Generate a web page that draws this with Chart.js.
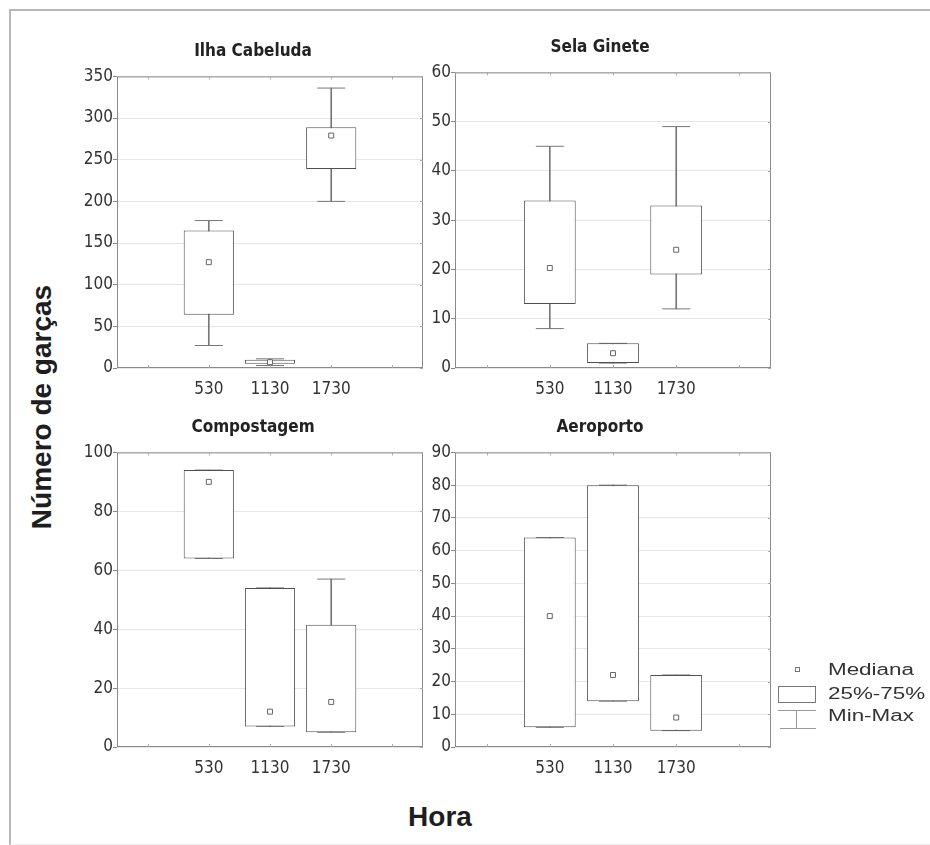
<!DOCTYPE html>
<html>
<head>
<meta charset="utf-8">
<script src="https://cdn.jsdelivr.net/npm/chart.js@4.4.1/dist/chart.umd.min.js"></script>
<style>
  body { margin: 0; background: #fff; }
  #page { position: relative; width: 930px; height: 845px; overflow: hidden; background: #fff; }
  #frame { position: absolute; left: 9px; top: 9px; width: 930px; height: 833px;
           border-top: 2px solid #b8b8b8; border-left: 2px solid #b8b8b8; border-bottom: 1px solid #eee; }
  canvas { position: absolute; }
  .lbl { position: absolute; font-family: 'Liberation Sans', Arial, sans-serif; font-weight: bold;
         font-size: 28px; color: #1e1e1e; white-space: nowrap; transform: translate(-50%, -50%); }
  .leg { position: absolute; font-family: 'Liberation Sans', Arial, sans-serif; font-size: 16px; color: #333;
         white-space: nowrap; transform-origin: left center; transform: translateY(-50%) scaleX(1.4); left: 828px; }
  .sym { position: absolute; box-sizing: border-box; }
</style>
</head>
<body>
<div id="page">
  <div id="frame"></div>
  <canvas id="c1" width="386" height="378" style="left:60px; top:30px;"></canvas>
  <canvas id="c2" width="404" height="382" style="left:398px; top:26px;"></canvas>
  <canvas id="c3" width="386" height="381" style="left:60px; top:406px;"></canvas>
  <canvas id="c4" width="404" height="381" style="left:398px; top:406px;"></canvas>

  <div class="lbl" style="left:42px; top:407px; transform: translate(-50%, -50%) rotate(-90deg);">Número de garças</div>
  <div class="lbl" style="left:440px; top:817px;">Hora</div>

  <div class="sym" style="left:795px; top:667px; width:5px; height:5px; border:1px solid #777;"></div>
  <div class="sym" style="left:778px; top:686px; width:38px; height:17px; border:1px solid #777;"></div>
  <div class="sym" style="left:778px; top:710px; width:38px; height:1px; background:#999;"></div>
  <div class="sym" style="left:796px; top:710px; width:1px; height:18px; background:#999;"></div>
  <div class="sym" style="left:780px; top:728px; width:36px; height:1px; background:#999;"></div>
  <div class="leg" style="top:670px;">Mediana</div>
  <div class="leg" style="top:694px;">25%-75%</div>
  <div class="leg" style="top:716px;">Min-Max</div>
</div>

<script>
// Horas (categorias do eixo x)
const horas = ['530', '1130', '1730'];

// [min, q1, mediana, q3, max] para cada hora
const ilhaCabeluda = [[27, 64, 127, 165, 177], [3, 5, 7, 10, 11], [200, 239, 279, 289, 336]];
const selaGinete = [[8, 13, 20.3, 34, 45], [1, 1, 3, 5, 5], [12, 19, 24, 33, 49]];
const compostagem = [[64, 64, 90, 94, 94], [7, 7, 12, 54, 54], [5, 5, 15.3, 41.5, 57]];
const aeroporto = [[6, 6, 40, 64, 64], [14, 14, 22, 80, 80], [5, 5, 9, 22, 22]];

// Escalas do eixo y
const yMax = [350, 60, 100, 90];
const yStep = [50, 10, 20, 10];

const narrow = "'DejaVu Sans Condensed', 'Liberation Sans Narrow', 'Arial Narrow', 'DejaVu Sans', sans-serif";
const tickFont = { family: narrow, size: 17, style: 'condensed' };
const titleFont = { family: narrow, size: 17, weight: 'bold', style: 'condensed' };

// Moldura da área do gráfico com pequenas marcas internas
const framePlugin = {
    id: 'frame',
    afterDraw(chart) {
        const { ctx, chartArea: a, scales } = chart;
        ctx.save();
        ctx.strokeStyle = '#8a8a8a';
        ctx.lineWidth = 1;
        ctx.strokeRect(a.left + 0.5, a.top + 0.5, a.width - 1, a.height - 1);
        ctx.strokeStyle = '#aaa';
        ctx.beginPath();
        scales.x.ticks.forEach((t, i) => {
            const x = Math.round(scales.x.getPixelForTick(i)) + 0.5;
            ctx.moveTo(x, a.top); ctx.lineTo(x, a.top + 3);
            ctx.moveTo(x, a.bottom); ctx.lineTo(x, a.bottom - 3);
        });
        scales.y.ticks.forEach((t, i) => {
            const y = Math.round(scales.y.getPixelForTick(i)) + 0.5;
            ctx.moveTo(a.right, y); ctx.lineTo(a.right - 3, y);
        });
        ctx.stroke();
        ctx.restore();
    }
};

function pick(stats, k) {
    return [null, ...stats.map(s => s[k]), null];
}

function createBoxChart(canvasId, title, stats, max, step, padRight) {
    const labels = ['', ...horas, ''];
    const ctx = document.getElementById(canvasId).getContext('2d');
    return new Chart(ctx, {
        type: 'bar',
        data: {
            labels: labels,
            datasets: [
                {
                    // caixa 25%-75%
                    type: 'bar',
                    data: [null, ...stats.map(s => [s[1], s[3]]), null],
                    backgroundColor: '#fff',
                    borderColor: '#505050',
                    borderWidth: 1,
                    borderSkipped: false,
                    barPercentage: 0.82,
                    categoryPercentage: 1,
                    grouped: false,
                    order: 1
                },
                {
                    // mediana
                    type: 'line',
                    data: pick(stats, 2),
                    showLine: false,
                    pointStyle: 'rect',
                    pointRadius: 3.5,
                    pointBackgroundColor: '#fff',
                    pointBorderColor: '#666',
                    pointBorderWidth: 1,
                    order: 0
                },
                {
                    // linha min-max
                    type: 'bar',
                    data: [null, ...stats.map(s => [s[0], s[4]]), null],
                    backgroundColor: '#777',
                    barThickness: 1,
                    grouped: false,
                    order: 3
                },
                {
                    type: 'line',
                    data: pick(stats, 0),
                    showLine: false,
                    pointStyle: 'line',
                    pointRadius: 14,
                    pointBorderColor: '#777',
                    pointBorderWidth: 1,
                    order: 2
                },
                {
                    type: 'line',
                    data: pick(stats, 4),
                    showLine: false,
                    pointStyle: 'line',
                    pointRadius: 14,
                    pointBorderColor: '#777',
                    pointBorderWidth: 1,
                    order: 2
                }
            ]
        },
        options: {
            responsive: false,
            animation: false,
            events: [],
            layout: { padding: 0 },
            plugins: {
                legend: { display: false },
                tooltip: { enabled: false },
                title: {
                    display: true,
                    text: title,
                    font: titleFont,
                    color: '#222',
                    padding: { top: 11, bottom: 15 }
                }
            },
            scales: {
                x: {
                    grid: { display: false, drawTicks: false },
                    border: { display: false },
                    ticks: { font: tickFont, color: '#333', padding: 11, autoSkip: false, maxRotation: 0 },
                    afterFit(scale) { scale.height = 40; }
                },
                y: {
                    min: 0,
                    max: max,
                    ticks: { stepSize: step, font: tickFont, color: '#333', padding: 0 },
                    grid: { color: '#e6e6e6', tickColor: '#888', tickLength: 4 },
                    border: { display: false },
                    afterFit(scale) { scale.width = 57; }
                },
                // espaço vazio à direita (o título fica centrado no canvas inteiro)
                pad: {
                    axis: 'y',
                    position: 'right',
                    grid: { display: false, drawTicks: false },
                    border: { display: false },
                    ticks: { display: false },
                    afterFit(scale) { scale.width = padRight; }
                }
            }
        },
        plugins: [framePlugin]
    });
}

createBoxChart('c1', 'Ilha Cabeluda', ilhaCabeluda, yMax[0], yStep[0], 23);
createBoxChart('c2', 'Sela Ginete', selaGinete, yMax[1], yStep[1], 31);
createBoxChart('c3', 'Compostagem', compostagem, yMax[2], yStep[2], 23);
createBoxChart('c4', 'Aeroporto', aeroporto, yMax[3], yStep[3], 31);
</script>
</body>
</html>
